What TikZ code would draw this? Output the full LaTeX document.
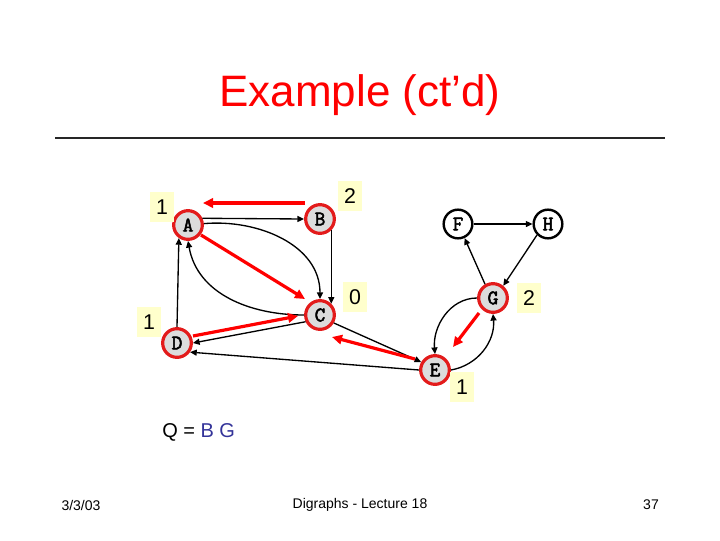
\documentclass[tikz,border=0pt]{standalone}
\usepackage{fontspec}
\setmainfont{Liberation Sans}
\newfontfamily\vertexfont[FakeBold=2.5]{Latin Modern Mono}
\usetikzlibrary{calc,arrows.meta}
\definecolor{slidered}{HTML}{FF0000}
\definecolor{ringred}{HTML}{E31B1B}
\definecolor{vertexgray}{HTML}{DCDCDC}
\definecolor{notepad}{HTML}{FFFFCC}
\definecolor{queueblue}{HTML}{333399}

\tikzset{
  vertex/.style={circle, draw=ringred, line width=2.4pt, fill=vertexgray, minimum size=21.5pt, inner sep=0pt, font=\vertexfont\fontsize{15.5}{15.5}\selectfont},
  plainvertex/.style={vertex, draw=black, line width=1.8pt, fill=white},
  edge/.style={line width=1pt, -{Triangle[length=5pt,width=4.5pt]}},
  trace/.style={draw=slidered, line width=2.4pt, -{Triangle[length=7.5pt,width=7pt]}},
  count/.style={fill=notepad, minimum width=18pt, minimum height=22pt, inner sep=0pt, font=\fontsize{16}{16}\selectfont}
}

\begin{document}
\begin{tikzpicture}[x=0.75pt, y=-0.75pt]
\useasboundingbox (0,0) rectangle (720,540);

% title and rule
\node[text=slidered, font=\fontsize{33}{36}\selectfont] (title) at (360,95) {Example (ct’d)};
\draw[line width=0.8pt, black!85] (55,138) -- (665,138);

% vertices
\node[vertex] (A) at (188,225) {A};
\node[vertex] (B) at (320,219) {B};
\node[vertex] (C) at (320,315) {C};
\node[vertex] (D) at (177,343) {D};
\node[vertex] (E) at (435,370) {E};
\node[vertex] (G) at (493,298) {G};
\node[plainvertex] (F) at (458,224) {F};
\node[plainvertex] (H) at (548,224) {H};

% in-degree counts
\node[count] (nA) at (162,207) {1};
\node[count] (nB) at (350,196) {2};
\node[count] (nC) at (355,297) {0};
\node[count] (nD) at (149,322) {1};
\node[count] (nG) at (529,298) {2};
\node[count] (nE) at (462,387) {1};

% edges of the digraph
\draw[edge] (A.25) -- (B.west);
\draw[edge] (A.5) to[out=5, in=90] (C.north);
\draw[edge] (C.west) to[out=180, in=-80] (A.south);
\draw[edge] (B.-45) -- (C.45);
\draw[edge] (D.north) -- (A.235);
\draw[edge] (C.205) -- (D.east);
\draw[edge] (C.-30) -- (E.150);
\draw[edge] (E.west) -- (D.-35);
\draw[edge] (F.east) -- (H.west);
\draw[edge] (H.225) -- (G.50);
\draw[edge] (G.120) -- (F.-65);
\draw[edge] (G.west) to[out=180, in=95] (E.north);
\draw[edge] (E.east) to[out=10, in=-85] (G.south);

% traversal arrows
\coordinate (t1s) at (305,203); \coordinate (t1e) at (203,203);
\coordinate (t2s) at (201,235); \coordinate (t2e) at (305,299);
\coordinate (t3s) at (193,336); \coordinate (t3e) at (298,316);
\coordinate (t4s) at (415,359); \coordinate (t4e) at (332,337);
\coordinate (t5s) at (479,313); \coordinate (t5e) at (453,347);
\draw[trace] (t1s) -- (t1e);
\draw[trace] (t2s) -- (t2e);
\draw[trace] (t3s) -- (t3e);
\draw[trace] (t4s) -- (t4e);
\draw[trace] (t5s) -- (t5e);

% queue
\node[anchor=west, inner sep=0pt, font=\fontsize{15}{15}\selectfont] (queue) at (162,432) {Q = {\color{queueblue}B G}};

% footer
\node[font=\fontsize{10.5}{12}\selectfont] (date) at (81,505) {3/3/03};
\node[font=\fontsize{10.5}{12}\selectfont] (lecture) at (360,505) {Digraphs - Lecture 18};
\node[font=\fontsize{10.5}{12}\selectfont] (page) at (651,505) {37};
\end{tikzpicture}
\end{document}
